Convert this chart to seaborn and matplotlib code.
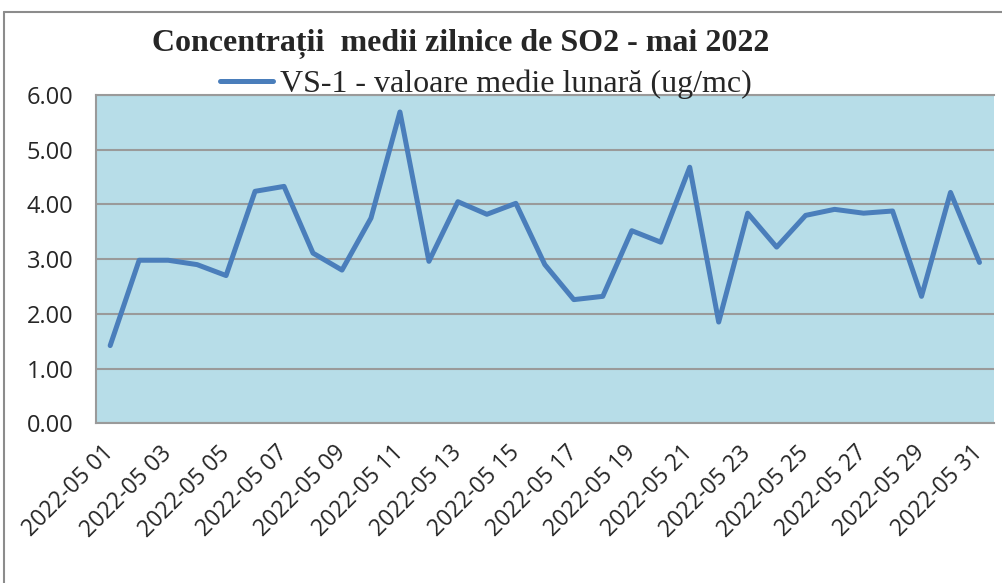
import numpy as np
import pandas as pd
import matplotlib
matplotlib.use("Agg")
import matplotlib.pyplot as plt
import seaborn as sns
from matplotlib.lines import Line2D

# daily SO2 values, May 2022
days = list(range(1, 32))
so2 = [1.42, 2.98, 2.98, 2.90, 2.70, 4.24, 4.33, 3.11, 2.80, 3.75, 5.69,
       2.96, 4.05, 3.82, 4.02, 2.90, 2.26, 2.32, 3.52, 3.31, 4.68, 1.85,
       3.84, 3.22, 3.80, 3.91, 3.84, 3.88, 2.32, 4.22, 2.94]
date_labels = ["2022-05 %02d" % d for d in days]
y_ticks = [0, 1, 2, 3, 4, 5, 6]

title = "Concentrații  medii zilnice de SO2 - mai 2022"
series_name = "VS-1 - valoare medie lunară (ug/mc)"

line_color = "#4a7ebb"
bg_color = "#b7dde8"
grid_color = "#9a9a9a"

sns.set_style("white")
plt.rcParams['font.family'] = ['Open Sans', 'DejaVu Sans']

df = pd.DataFrame({"pos": np.arange(len(days)), "value": so2})

fig = plt.figure(figsize=(10.03, 5.83), dpi=100)
ax = fig.add_axes([0.0954, 0.274, 0.8956, 0.563])

sns.lineplot(data=df, x="pos", y="value", color=line_color, linewidth=3.6, ax=ax)

ax.set_facecolor(bg_color)
ax.set_xlim(-0.5, len(days) - 0.5)
ax.set_ylim(0, 6)
ax.set_yticks(y_ticks)
ax.set_yticklabels(["%.2f" % v for v in y_ticks], fontsize=17)
ax.set_xticks(df["pos"][::2])
ax.set_xticklabels(date_labels[::2], rotation=45, ha="right", va="center",
                   rotation_mode="anchor", fontsize=16.5)
ax.tick_params(axis="y", length=0, pad=16)
ax.tick_params(axis="x", length=0, pad=19)
ax.yaxis.grid(True, color=grid_color, linewidth=1.5)
ax.set_axisbelow(True)
ax.set_xlabel("")
ax.set_ylabel("")
for s in ax.spines.values():
    s.set_color(grid_color)
    s.set_linewidth(1.5)
ax.spines["right"].set_visible(False)

# title and legend, Excel-style above the plot
fig.text(461 / 1003, 1 - 44 / 583, title, ha="center", va="center",
         fontsize=23, fontweight="bold", family="Liberation Serif")
handle = Line2D([], [], color=line_color, linewidth=3.6)
leg = fig.legend([handle], [series_name], loc="center",
                 bbox_to_anchor=(486 / 1003, 1 - 84 / 583), frameon=False,
                 prop={"family": "Liberation Serif", "size": 23},
                 handlelength=1.65, handletextpad=0.22)

# chart frame (top and left edges visible)
fig.add_artist(Line2D([4 / 1003, 4 / 1003], [0, 1 - 12 / 583],
                      transform=fig.transFigure, color="#8c8c8c", linewidth=1.5))
fig.add_artist(Line2D([4 / 1003, 1], [1 - 12 / 583, 1 - 12 / 583],
                      transform=fig.transFigure, color="#8c8c8c", linewidth=1.5))

fig.savefig("out.png", dpi=100)
